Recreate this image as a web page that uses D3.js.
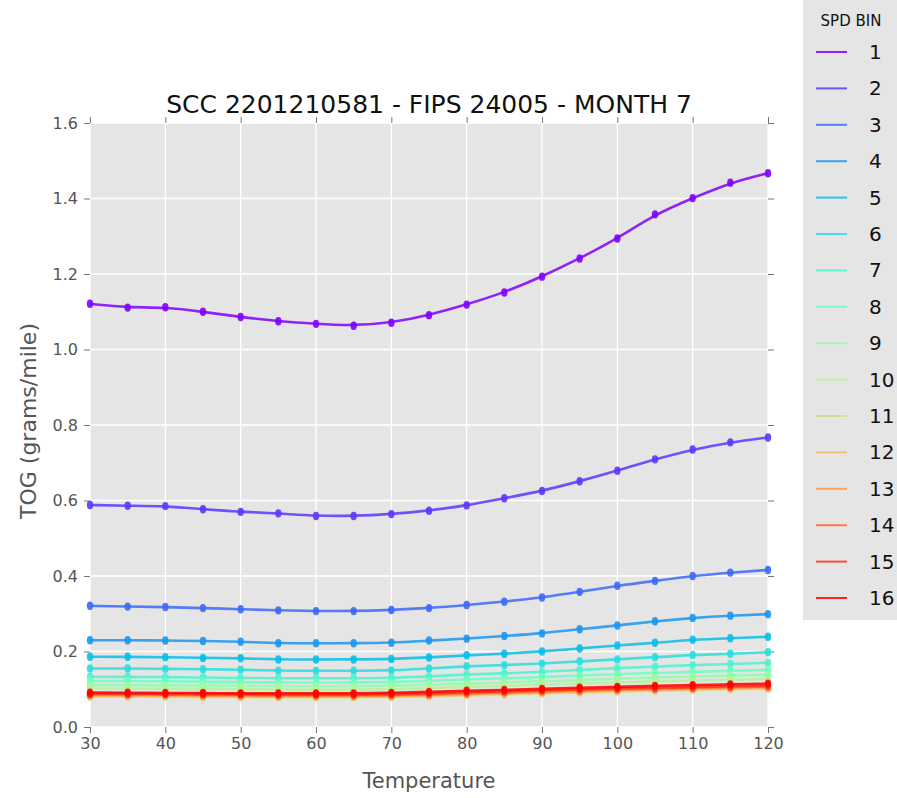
<!DOCTYPE html>
<html>
<head>
<meta charset="utf-8">
<script src="https://cdn.jsdelivr.net/npm/d3@7"></script>
<style>
  html, body { margin: 0; padding: 0; background: #fff; overflow: hidden; }
  svg { display: block; }
  text { font-family: 'DejaVu Sans', sans-serif; }
</style>
</head>
<body>
<svg id="chart"></svg>
<script>
//temperatures the emission rates were read at
let temps = [30, 35, 40, 45, 50, 55, 60, 65, 70, 75, 80, 85, 90, 95, 100, 105, 110, 115, 120]

//speed bins shown in the legend
let spdBins = ['1', '2', '3', '4', '5', '6', '7', '8', '9', '10', '11', '12', '13', '14', '15', '16']

//TOG (grams/mile) per speed bin, one value per temperature
let tog1 = [1.121, 1.111, 1.112, 1.100, 1.086, 1.075, 1.068, 1.063, 1.071, 1.091, 1.119, 1.151, 1.193, 1.241, 1.294, 1.358, 1.401, 1.442, 1.467]
let tog2 = [0.588, 0.586, 0.585, 0.577, 0.570, 0.566, 0.559, 0.559, 0.564, 0.573, 0.587, 0.606, 0.625, 0.651, 0.679, 0.709, 0.735, 0.754, 0.767]
let tog3 = [0.321, 0.319, 0.318, 0.315, 0.312, 0.309, 0.307, 0.307, 0.310, 0.315, 0.323, 0.332, 0.343, 0.358, 0.374, 0.387, 0.400, 0.409, 0.416]
let tog4 = [0.230, 0.230, 0.229, 0.228, 0.226, 0.222, 0.222, 0.222, 0.223, 0.229, 0.234, 0.241, 0.248, 0.259, 0.269, 0.280, 0.289, 0.295, 0.299]
let tog5 = [0.186, 0.186, 0.185, 0.183, 0.182, 0.179, 0.179, 0.179, 0.180, 0.184, 0.190, 0.194, 0.200, 0.208, 0.216, 0.223, 0.231, 0.235, 0.239]
let tog6 = [0.155, 0.155, 0.154, 0.153, 0.152, 0.149, 0.149, 0.149, 0.150, 0.155, 0.161, 0.164, 0.168, 0.174, 0.179, 0.185, 0.191, 0.194, 0.198]
let tog7 = [0.133, 0.133, 0.132, 0.131, 0.130, 0.129, 0.129, 0.129, 0.130, 0.134, 0.139, 0.142, 0.146, 0.151, 0.156, 0.160, 0.164, 0.167, 0.170]
let tog8 = [0.122, 0.122, 0.121, 0.120, 0.119, 0.118, 0.118, 0.118, 0.119, 0.122, 0.126, 0.129, 0.132, 0.136, 0.140, 0.143, 0.146, 0.149, 0.151]
let tog9 = [0.111, 0.111, 0.110, 0.110, 0.109, 0.108, 0.108, 0.108, 0.109, 0.112, 0.115, 0.118, 0.121, 0.124, 0.128, 0.131, 0.134, 0.136, 0.138]
let tog10 = [0.102, 0.102, 0.101, 0.101, 0.100, 0.099, 0.099, 0.099, 0.100, 0.103, 0.106, 0.109, 0.112, 0.115, 0.118, 0.121, 0.123, 0.125, 0.127]
let tog11 = [0.080, 0.080, 0.080, 0.079, 0.079, 0.078, 0.078, 0.078, 0.079, 0.081, 0.084, 0.086, 0.089, 0.091, 0.094, 0.096, 0.098, 0.100, 0.101]
let tog12 = [0.082, 0.082, 0.082, 0.081, 0.081, 0.080, 0.080, 0.080, 0.081, 0.083, 0.086, 0.088, 0.091, 0.093, 0.096, 0.098, 0.100, 0.102, 0.103]
let tog13 = [0.084, 0.084, 0.084, 0.083, 0.083, 0.082, 0.082, 0.082, 0.083, 0.085, 0.088, 0.090, 0.093, 0.095, 0.098, 0.100, 0.102, 0.104, 0.105]
let tog14 = [0.086, 0.086, 0.086, 0.085, 0.085, 0.084, 0.084, 0.084, 0.085, 0.087, 0.090, 0.092, 0.095, 0.097, 0.100, 0.102, 0.104, 0.106, 0.107]
let tog15 = [0.088, 0.088, 0.088, 0.087, 0.087, 0.086, 0.086, 0.086, 0.087, 0.089, 0.092, 0.095, 0.097, 0.100, 0.102, 0.104, 0.106, 0.108, 0.110]
let tog16 = [0.091, 0.091, 0.090, 0.090, 0.089, 0.089, 0.089, 0.089, 0.090, 0.093, 0.096, 0.098, 0.101, 0.104, 0.106, 0.109, 0.111, 0.113, 0.115]

let xTicks = [30, 40, 50, 60, 70, 80, 90, 100, 110, 120]
let yTicks = [0.0, 0.2, 0.4, 0.6, 0.8, 1.0, 1.2, 1.4, 1.6]

let allTog = [tog1, tog2, tog3, tog4, tog5, tog6, tog7, tog8, tog9, tog10, tog11, tog12, tog13, tog14, tog15, tog16]

//matplotlib rainbow colormap sampled at 16 steps
let binColors = ['#8000ff', '#5e35fe', '#3c68f9', '#1a96f3', '#08bde9', '#2adddd', '#4df3ce', '#6efebe',
                 '#91feab', '#b3f396', '#d5dd80', '#f7bd68', '#ff964f', '#ff6835', '#ff351b', '#ff0000']

//outer / inner plotting region
let outerWidth = 897
let outerHeight = 798
let margins = { top: 123, bottom: 71, left: 90, right: 129 }
let innerWidth = outerWidth - margins.left - margins.right
let innerHeight = outerHeight - margins.top - margins.bottom

let svg = d3.select('svg#chart')
  .attr('width', outerWidth)
  .attr('height', outerHeight)

let inner = svg.append('g')
  .attr('transform', 'translate(' + margins.left + ',' + margins.top + ')')

let xScale = d3.scaleLinear().domain([30, 120]).range([0, innerWidth])
let yScale = d3.scaleLinear().domain([0, 1.6]).range([innerHeight, 0])

//grey panel
inner.append('rect')
  .attr('width', innerWidth)
  .attr('height', innerHeight)
  .attr('fill', '#e5e5e5')

//white grid lines
inner.append('g')
  .selectAll('line')
  .data(xTicks)
  .join('line')
  .attr('x1', d => xScale(d)).attr('x2', d => xScale(d))
  .attr('y1', 0).attr('y2', innerHeight)
  .attr('stroke', '#fff').attr('stroke-width', 1.3)

inner.append('g')
  .selectAll('line')
  .data(yTicks)
  .join('line')
  .attr('y1', d => yScale(d)).attr('y2', d => yScale(d))
  .attr('x1', 0).attr('x2', innerWidth)
  .attr('stroke', '#fff').attr('stroke-width', 1.3)

//axes, ticks point outwards on all four sides
let tickLen = 6
function styleAxis(g, showLabels) {
  g.select('.domain').remove()
  g.selectAll('.tick line').attr('stroke', '#777').attr('stroke-width', 1)
  if (!showLabels) {
    g.selectAll('.tick text').remove()
    return
  }
  g.selectAll('.tick text')
    .attr('fill', '#555')
    .style('font-size', '16px')
    .style('font-family', 'DejaVu Sans, sans-serif')
}

inner.append('g')
  .attr('transform', 'translate(0,' + innerHeight + ')')
  .call(d3.axisBottom(xScale).tickValues(xTicks).tickSize(tickLen).tickPadding(5).tickFormat(d3.format('d')))
  .call(g => styleAxis(g, true))

inner.append('g')
  .call(d3.axisTop(xScale).tickValues(xTicks).tickSize(tickLen).tickFormat(''))
  .call(g => styleAxis(g, false))

inner.append('g')
  .call(d3.axisLeft(yScale).tickValues(yTicks).tickSize(tickLen).tickPadding(6).tickFormat(d3.format('.1f')))
  .call(g => styleAxis(g, true))

inner.append('g')
  .attr('transform', 'translate(' + innerWidth + ',0)')
  .call(d3.axisRight(yScale).tickValues(yTicks).tickSize(tickLen).tickFormat(''))
  .call(g => styleAxis(g, false))

//one smoothed line + markers per speed bin
let line = d3.line()
  .x((d, i) => xScale(temps[i]))
  .y(d => yScale(d))
  .curve(d3.curveBasis)

let series = inner.append('g')
  .selectAll('g')
  .data(allTog.map((vals, k) => ({ vals: vals, color: binColors[k] })))
  .join('g')

series.append('path')
  .attr('d', d => line(d.vals))
  .attr('fill', 'none')
  .attr('stroke', d => d.color)
  .attr('stroke-width', 2.6)
  .attr('stroke-opacity', 0.85)

series.each(function (s) {
  d3.select(this)
    .selectAll('ellipse')
    .data(s.vals)
    .join('ellipse')
    .attr('cx', (d, i) => xScale(temps[i]))
    .attr('cy', d => yScale(d))
    .attr('rx', 3.2)
    .attr('ry', 4.2)
    .attr('fill', s.color)
    .attr('fill-opacity', 0.9)
})

//title and axis labels
svg.append('text')
  .attr('x', margins.left + innerWidth / 2)
  .attr('y', 113)
  .attr('text-anchor', 'middle')
  .style('font-size', '25px')
  .attr('fill', '#111')
  .text('SCC 2201210581 - FIPS 24005 - MONTH 7')

svg.append('text')
  .attr('x', margins.left + innerWidth / 2)
  .attr('y', 788)
  .attr('text-anchor', 'middle')
  .style('font-size', '21px')
  .attr('fill', '#555')
  .text('Temperature')

svg.append('text')
  .attr('text-anchor', 'middle')
  .attr('transform', 'translate(36,' + (margins.top + innerHeight / 2 - 4) + ') rotate(-90)')
  .style('font-size', '22px')
  .attr('fill', '#555')
  .text('TOG (grams/mile)')

//legend box on the right
let legend = svg.append('g')

legend.append('rect')
  .attr('x', 803)
  .attr('y', 0)
  .attr('width', 94)
  .attr('height', 620)
  .attr('fill', '#e5e5e5')

legend.append('text')
  .attr('x', 851)
  .attr('y', 26)
  .attr('text-anchor', 'middle')
  .style('font-size', '15px')
  .attr('fill', '#111')
  .text('SPD BIN')

let legendY = d3.scalePoint().domain(spdBins).range([52, 598])

let rows = legend.selectAll('g.row')
  .data(spdBins)
  .join('g')
  .attr('class', 'row')
  .attr('transform', d => 'translate(0,' + legendY(d) + ')')

rows.append('line')
  .attr('x1', 816).attr('x2', 847)
  .attr('stroke', (d, i) => binColors[i])
  .attr('stroke-width', 2)
  .attr('stroke-opacity', 0.85)

rows.append('text')
  .attr('x', 869)
  .attr('y', 7)
  .style('font-size', '20px')
  .attr('fill', '#111')
  .text(d => d)
</script>
</body>
</html>
